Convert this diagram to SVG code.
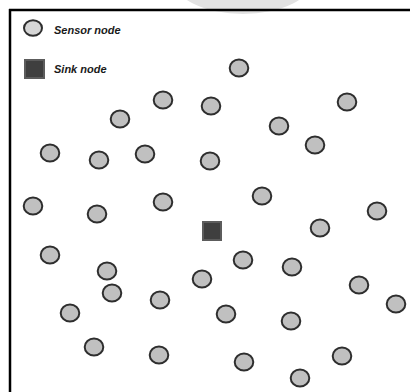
<svg xmlns="http://www.w3.org/2000/svg" width="410" height="392" viewBox="0 0 410 392">
<style>
.s{fill:#c0c0c0;stroke:#2e2e2e;stroke-width:2}
.k{fill:#3f3f3f;stroke:#5c5c5c;stroke-width:2}
.t{font-family:"Liberation Sans",Arial,sans-serif;font-size:11px;font-weight:bold;font-style:italic;fill:#1a1a1a}
</style>
<defs>
<ellipse id="c" rx="9.3" ry="8.6"/>
</defs>
<rect x="0" y="0" width="410" height="392" fill="#ffffff"/>
<ellipse cx="243" cy="-21" rx="70" ry="35" fill="#e2e2e2"/>
<g id="frame">
<line x1="9" y1="10" x2="410" y2="10" stroke="#000" stroke-width="2.5"/>
<line x1="10" y1="9" x2="10" y2="392" stroke="#000" stroke-width="2.5"/>
</g>
<g id="legend">
<ellipse cx="33" cy="28" rx="9" ry="7.8" fill="#d6d6d6" stroke="#2e2e2e" stroke-width="2"/>
<text class="t" x="54" y="34">Sensor node</text>
<rect class="k" x="25" y="60" width="19" height="18"/>
<text class="t" x="54" y="73">Sink node</text>
</g>
<g id="connectors"></g>
<g id="sink"><rect class="k" x="203" y="222" width="18" height="18"/></g>
<g id="sensors">
<use href="#c" class="s" x="239" y="68"/>
<use href="#c" class="s" x="163" y="100"/>
<use href="#c" class="s" x="211" y="106"/>
<use href="#c" class="s" x="347" y="102"/>
<use href="#c" class="s" x="120" y="119"/>
<use href="#c" class="s" x="279" y="126"/>
<use href="#c" class="s" x="315" y="145"/>
<use href="#c" class="s" x="50" y="153"/>
<use href="#c" class="s" x="99" y="160"/>
<use href="#c" class="s" x="145" y="154"/>
<use href="#c" class="s" x="210" y="161"/>
<use href="#c" class="s" x="262" y="196"/>
<use href="#c" class="s" x="33" y="206"/>
<use href="#c" class="s" x="97" y="214"/>
<use href="#c" class="s" x="163" y="202"/>
<use href="#c" class="s" x="377" y="211"/>
<use href="#c" class="s" x="320" y="228"/>
<use href="#c" class="s" x="50" y="255"/>
<use href="#c" class="s" x="107" y="271"/>
<use href="#c" class="s" x="243" y="260"/>
<use href="#c" class="s" x="292" y="267"/>
<use href="#c" class="s" x="202" y="279"/>
<use href="#c" class="s" x="359" y="285"/>
<use href="#c" class="s" x="112" y="293"/>
<use href="#c" class="s" x="160" y="300"/>
<use href="#c" class="s" x="396" y="304"/>
<use href="#c" class="s" x="70" y="313"/>
<use href="#c" class="s" x="226" y="314"/>
<use href="#c" class="s" x="291" y="321"/>
<use href="#c" class="s" x="94" y="347"/>
<use href="#c" class="s" x="159" y="355"/>
<use href="#c" class="s" x="244" y="362"/>
<use href="#c" class="s" x="342" y="356"/>
<use href="#c" class="s" x="300" y="378"/>
</g>
</svg>
